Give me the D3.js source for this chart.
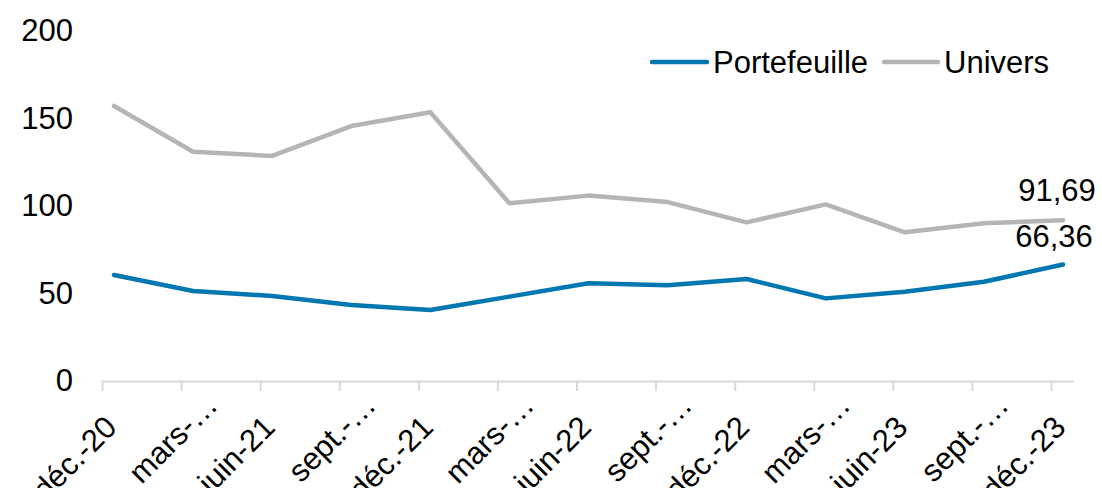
<!DOCTYPE html>
<html>
<head>
<meta charset="utf-8">
<script src="https://cdn.jsdelivr.net/npm/d3@7"></script>
<style>
  html, body { margin: 0; padding: 0; background: #fff; }
  svg { display: block; }
  text { font-family: "Liberation Sans", Arial, sans-serif; fill: #000; }
</style>
</head>
<body>
<svg id="chart" width="1102" height="488"></svg>
<script>
const categories = ["déc.-20", "mars-…", "juin-21", "sept.-…", "déc.-21", "mars-…", "juin-22", "sept.-…", "déc.-22", "mars-…", "juin-23", "sept.-…", "déc.-23"];
const portefeuille = [60.4, 51.2, 48.4, 43.2, 40.3, 48.0, 55.6, 54.5, 58.1, 47.0, 50.8, 56.5, 66.36];
const univers = [157.1, 130.9, 128.5, 145.6, 153.5, 101.4, 105.8, 102.1, 90.5, 100.8, 84.8, 90.0, 91.69];
const yTicks = [0, 50, 100, 150, 200];
const seriesNames = ["Portefeuille", "Univers"];
const seriesColors = ["#0077b0", "#b4b5b7"];

const svg = d3.select("#chart");
const fontSize = 31;

const idx = categories.map((c, i) => i);
const x = d3.scalePoint().domain(idx).range([114, 1063]);
const xTick = d3.scalePoint().domain(idx).range([102, 1051]);
const y = d3.scaleLinear().domain([0, 200]).range([380.5, 31]);

// Y axis
const yAxis = svg.append("g").attr("transform", "translate(73,0)")
  .call(d3.axisLeft(y).tickValues(yTicks).tickSize(0).tickPadding(0));
yAxis.select(".domain").remove();
yAxis.selectAll("text").style("font-size", fontSize + "px").attr("font-family", null);

// X axis
const xAxis = svg.append("g").attr("transform", "translate(0,381)")
  .call(d3.axisBottom(xTick).tickSize(10).tickSizeOuter(0).tickFormat(i => categories[i]));
xAxis.select(".domain").attr("d", "M102,0.5H1074").attr("stroke", "#d9d9d9").attr("stroke-width", 2);
xAxis.selectAll(".tick line").attr("stroke", "#d9d9d9").attr("stroke-width", 2);
xAxis.selectAll(".tick text")
  .attr("x", 0).attr("y", 0).attr("dy", 0)
  .attr("dx", d => categories[d].includes("…") ? 31 : 0)
  .attr("text-anchor", "end")
  .attr("transform", "translate(16,48) rotate(-45)")
  .style("font-size", fontSize + "px");
svg.selectAll("g").attr("font-family", null).attr("font-size", null);

// Lines
const line = d3.line().x((d, i) => x(i)).y(d => y(d));
[portefeuille, univers].forEach((vals, k) => {
  svg.append("path").datum(vals)
    .attr("d", line)
    .attr("fill", "none")
    .attr("stroke", seriesColors[k])
    .attr("stroke-width", 4.5)
    .attr("stroke-linejoin", "round")
    .attr("stroke-linecap", "round");
});

// Data labels on last point
const fr = d3.formatLocale({decimal: ",", thousands: " ", grouping: [3], currency: ["", " €"]});
const fmt = fr.format(".2f");
const last = categories.length - 1;
svg.append("text")
  .attr("x", x(last) - 6).attr("y", y(univers[last]) - 19)
  .attr("text-anchor", "middle").style("font-size", fontSize + "px")
  .text(fmt(univers[last]));
svg.append("text")
  .attr("x", x(last) - 9).attr("y", y(portefeuille[last]) - 18)
  .attr("text-anchor", "middle").style("font-size", fontSize + "px")
  .text(fmt(portefeuille[last]));

// Legend
const legendItems = [
  {x1: 652, x2: 707, tx: 713},
  {x1: 884, x2: 938, tx: 944}
];
legendItems.forEach((it, k) => {
  svg.append("line")
    .attr("x1", it.x1).attr("x2", it.x2).attr("y1", 62).attr("y2", 62)
    .attr("stroke", seriesColors[k]).attr("stroke-width", 4.5).attr("stroke-linecap", "round");
  svg.append("text")
    .attr("x", it.tx).attr("y", 62).attr("dy", "0.35em")
    .style("font-size", fontSize + "px")
    .text(seriesNames[k]);
});
</script>
</body>
</html>
